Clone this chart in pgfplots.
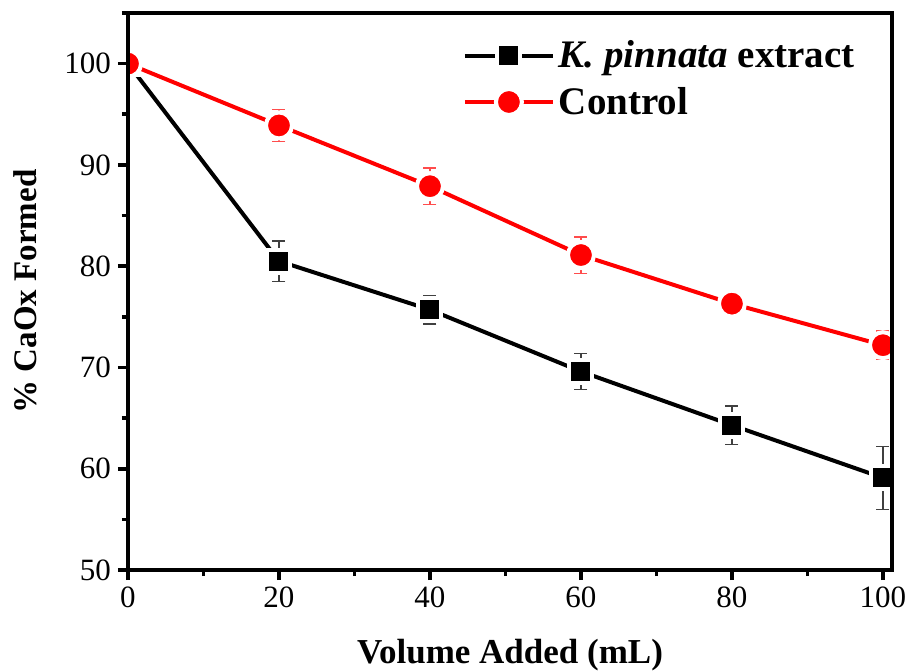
\documentclass[border=0pt]{standalone}
\usepackage{fontspec}
\setmainfont{Liberation Serif}
\usepackage{pgfplots}
\pgfplotsset{compat=1.18}

\pgfplotstableread{
x   k      ke    c      ce
0   100    0     100    0
20  80.5   2.0   93.9   1.6
40  75.7   1.4   87.9   1.8
60  69.6   1.8   81.1   1.8
80  64.3   1.9   76.3   0.9
100 59.1   3.1   72.2   1.4
}\datatable

\begin{document}
\begin{tikzpicture}
\begin{axis}[
  name=ax, at={(0,0)}, anchor=south west,
  scale only axis, width=382pt, height=278.5pt,
  xmin=0, xmax=101.2, ymin=50, ymax=105,
  xtick={0,20,...,100}, minor xtick={10,30,...,90},
  ytick={50,60,...,100}, minor ytick={55,65,...,105},
  tick align=outside, tick pos=left,
  major tick length=5pt, minor tick length=3pt,
  every tick/.style={line width=1.8pt, black},
  axis line style={line width=2pt},
  axis on top, clip marker paths=true,
  /pgf/number format/assume math mode=true,
  tick label style={font=\fontsize{15.5}{18}\selectfont},
  xlabel={Volume Added (mL)}, ylabel={\% CaOx Formed},
  xlabel style={font=\fontsize{17.5}{20}\selectfont\bfseries,
    at={(axis description cs:0.5,-0.1526)}, anchor=center},
  ylabel style={font=\fontsize{16.5}{20}\selectfont\bfseries,
    at={(axis description cs:-0.1348,0.5)}, anchor=center},
  legend style={at={(axis description cs:0.43,0.965)}, anchor=north west,
    draw=none, fill=none, font=\fontsize{19.5}{22}\selectfont\bfseries,
    row sep=4pt},
  legend cell align=left,
  legend image code/.code={\draw[#1, mark repeat=2, mark phase=2]
    plot coordinates {(0pt,0pt) (22pt,0pt) (44pt,0pt)};},
]
% error bars first, so the markers sit over them
\addplot[forget plot, draw=none, mark=none,
  error bars/.cd, y dir=both, y explicit, error mark=|,
  error bar style={draw=black!75, line width=0.7pt},
  error mark options={draw=black!75, mark size=3.25pt, line width=0.7pt}]
  table[x=x, y=k, y error=ke] {\datatable};
\addplot[forget plot, draw=none, mark=none,
  error bars/.cd, y dir=both, y explicit, error mark=|,
  error bar style={draw=red!70, line width=0.7pt},
  error mark options={draw=red!70, mark size=3.25pt, line width=0.7pt}]
  table[x=x, y=c, y error=ce] {\datatable};
% K. pinnata extract
\addplot[black, line width=2pt, mark=square*, mark size=5.75pt,
  mark options={fill=black, draw=white, line width=2pt}]
  table[x=x, y=k] {\datatable};
\addlegendentry{\textit{K. pinnata} extract}
% Control
\addplot[red, line width=2pt, mark=*, mark size=6.5pt,
  mark options={fill=red, draw=white, line width=2pt}]
  table[x=x, y=c] {\datatable};
\addlegendentry{Control}
\end{axis}
\pgfresetboundingbox
\path[use as bounding box] (-64pt,-50.5pt) rectangle (393pt,285pt);
\end{tikzpicture}
\end{document}
